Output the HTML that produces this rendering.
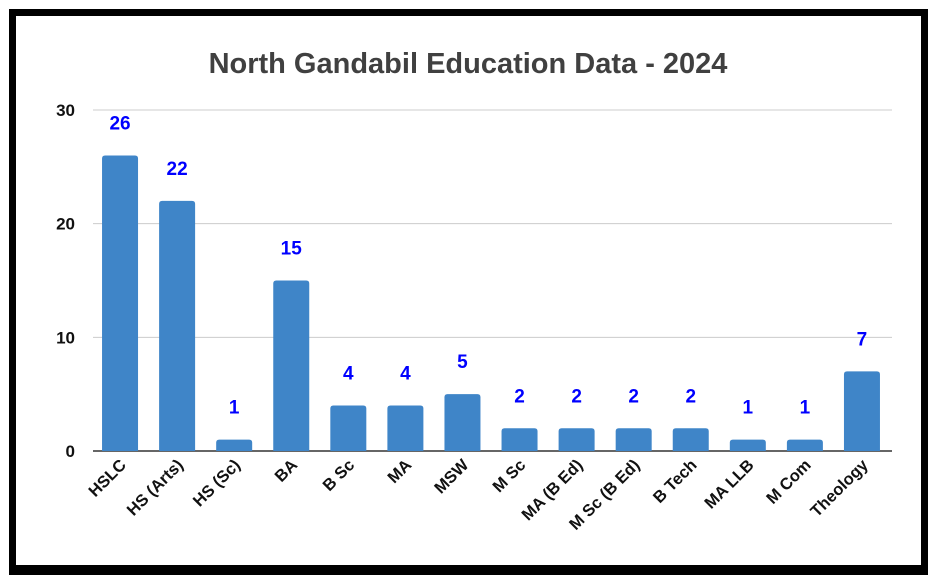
<!DOCTYPE html>
<html><head><meta charset="utf-8"><style>
html,body{margin:0;padding:0;background:#fff;}
body{width:936px;height:577px;position:relative;overflow:hidden;font-family:"Liberation Sans",Arial,sans-serif;}
#frame{position:absolute;left:9px;top:9px;width:905px;height:549px;border:7px solid #000;border-bottom-width:10px;background:#fff;}
</style></head><body>
<div id="frame"></div>
<svg id="chart" width="936" height="577" style="position:absolute;left:0;top:0">
<text x="468" y="73" text-anchor="middle" font-size="29" font-weight="bold" fill="#404040">North Gandabil Education Data - 2024</text>
<g id="grid"></g><g id="bars"></g><g id="labels"></g>
</svg>
<script>
const categories=["HSLC","HS (Arts)","HS (Sc)","BA","B Sc","MA","MSW","M Sc","MA (B Ed)","M Sc (B Ed)","B Tech","MA LLB","M Com","Theology"];
const values=[26,22,1,15,4,4,5,2,2,2,2,1,1,7];
const yTicks=[0,10,20,30];
const NS="http://www.w3.org/2000/svg";
const x0=93,x1=892,y0=451,yTop=110,yMax=30;
const band=(x1-x0)/categories.length;
const xC=i=>x0+band*(i+0.5)-1.5;
const yS=v=>y0-(v/yMax)*(y0-yTop);
function mk(tag,attrs,parent,text){const e=document.createElementNS(NS,tag);for(const k in attrs)e.setAttribute(k,attrs[k]);if(text!==undefined)e.textContent=text;parent.appendChild(e);return e;}
const grid=document.getElementById('grid'),bars=document.getElementById('bars'),labels=document.getElementById('labels');
yTicks.forEach(t=>{
  const l=mk('line',{x1:x0,x2:x1,y1:yS(t),y2:yS(t),stroke:t===0?'#333':'#ccc','stroke-width':t===0?1.5:1},grid);
  
  
  const tx=mk('text',{x:75,y:yS(t)+6,'text-anchor':'end','font-size':17,'font-weight':'bold',fill:'#111'},grid,String(t));
  
  
});
categories.forEach((c,i)=>{
  const v=values[i],w=36,yt=yS(v);
  const r=mk('path',{d:`M${xC(i)-w/2},${y0} V${yt+3} Q${xC(i)-w/2},${yt} ${xC(i)-w/2+3},${yt} H${xC(i)+w/2-3} Q${xC(i)+w/2},${yt} ${xC(i)+w/2},${yt+3} V${y0} Z`,fill:'#3f85c8'},bars);
  
  
  const vl=mk('text',{x:xC(i),y:yt-26,'text-anchor':'middle','font-size':19,'font-weight':'bold',fill:'#0000ff'},labels,String(v));
  
  
  const xl=mk('text',{x:xC(i)+7,y:y0+15,'text-anchor':'end','font-size':16.5,'font-weight':'bold',fill:'#111',transform:`rotate(-45 ${xC(i)+7} ${y0+15})`},labels,c);
  
  
});
</script>
</body></html>
